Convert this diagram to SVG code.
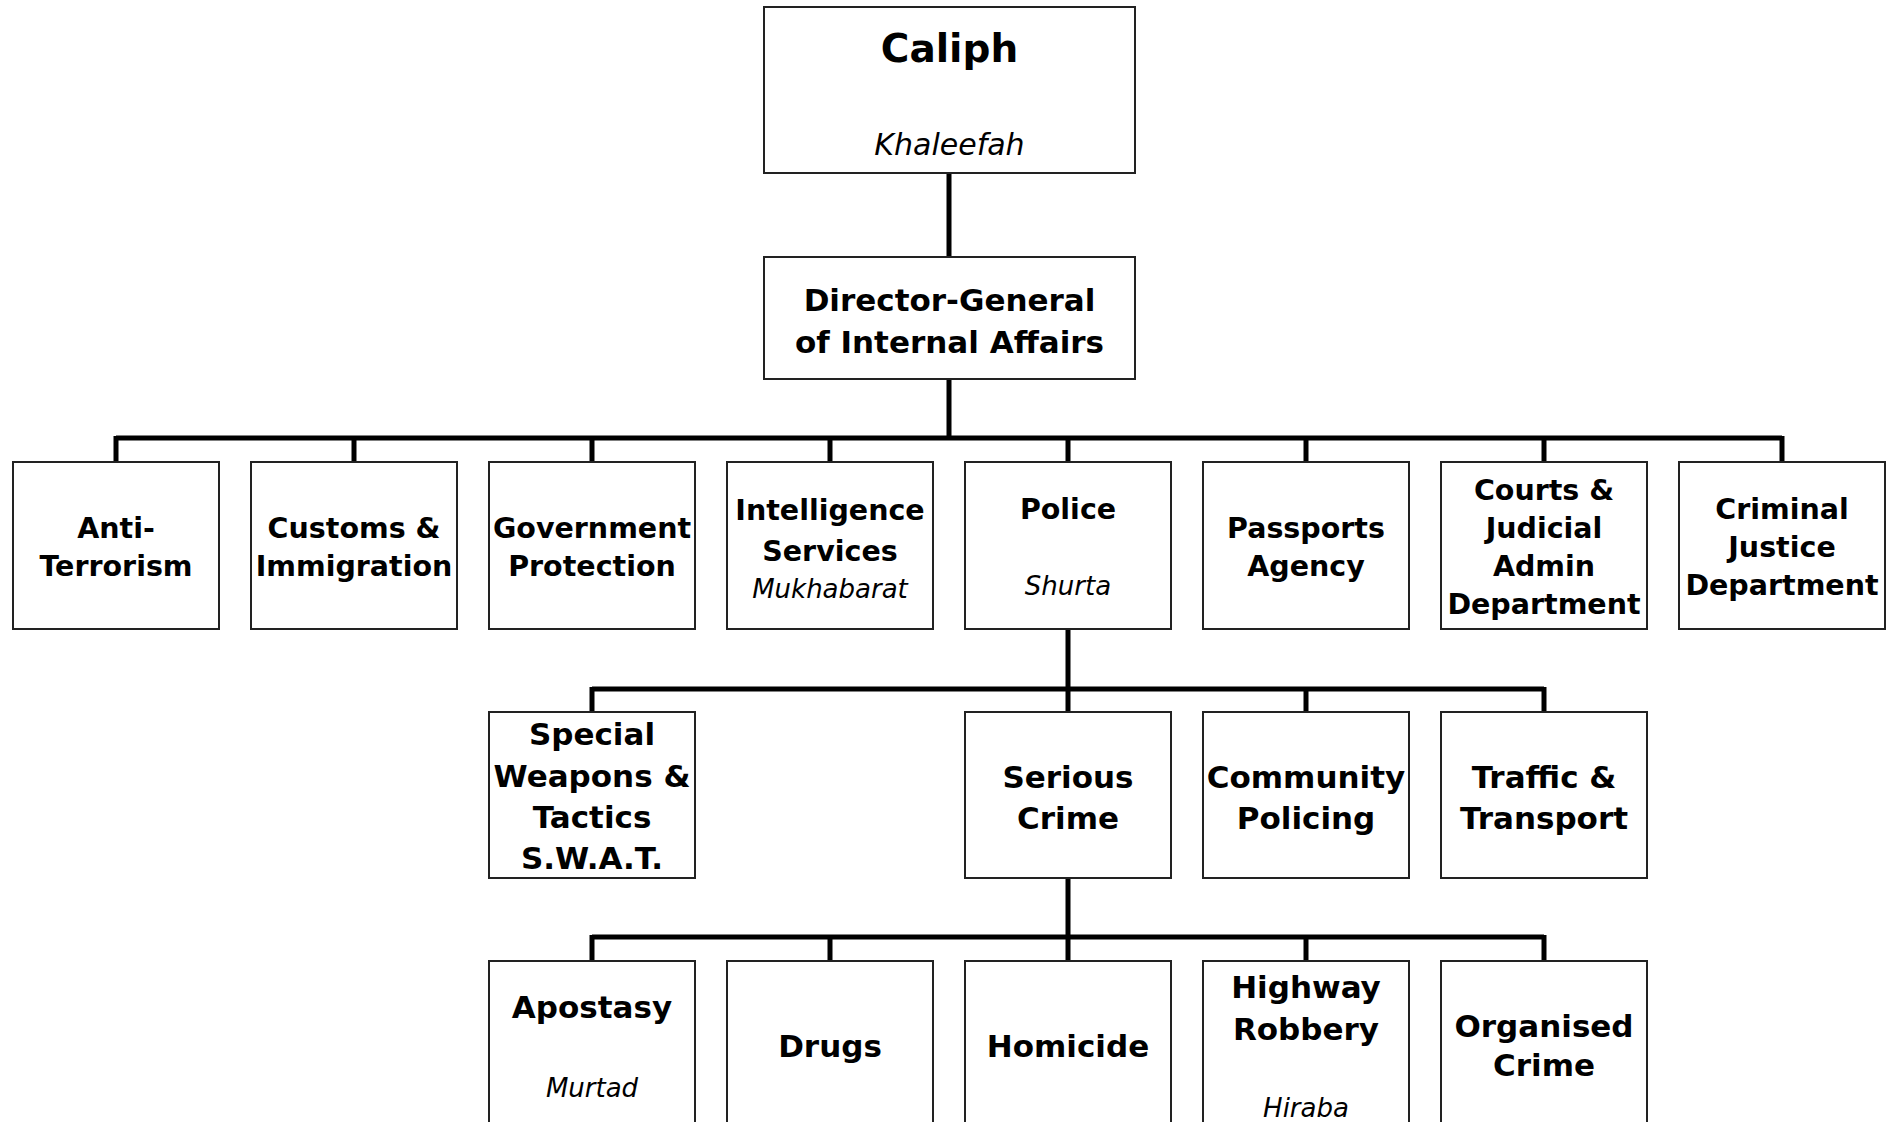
<svg xmlns="http://www.w3.org/2000/svg" width="1894" height="1122" viewBox="0 0 1894 1122">
<style>
.box{fill:#fff;stroke:#222;stroke-width:2}
.t{font-family:"DejaVu Sans",Verdana,sans-serif;font-weight:bold;text-anchor:middle;fill:#000}
.i{font-family:"DejaVu Sans",Verdana,sans-serif;font-style:italic;text-anchor:middle;fill:#000}
.l2{font-size:28.5px}
.l3{font-size:31px}
.it{font-size:26px}
.con{fill:none;stroke:#000;stroke-width:5}
</style>
<rect width="1894" height="1122" fill="#fff"/>
<g id="connectors">
<path class="con" d="M949 173V257M949 379V438M116 438H1782M116 436V462M354 436V462M592 436V462M830 436V462M1068 436V462M1306 436V462M1544 436V462M1782 436V462"/>
<path class="con" d="M1068 629V689M592 689H1544M592 687V712M1068 687V712M1306 687V712M1544 687V712"/>
<path class="con" d="M1068 878V937M592 937H1544M592 935V961M830 935V961M1068 935V961M1306 935V961M1544 935V961"/>
</g>
<g id="caliph"><rect class="box" x="764" y="7" width="371" height="166"/>
<text class="t" x="949.5" y="62" font-size="39">Caliph</text>
<text class="i" x="949.5" y="155" font-size="30">Khaleefah</text></g>
<g id="director-general"><rect class="box" x="764" y="257" width="371" height="122"/>
<text class="t" x="949.5" y="311" font-size="31">Director-General</text>
<text class="t" x="949.5" y="353" font-size="31">of Internal Affairs</text></g>
<g id="anti-terrorism"><rect class="box" x="13" y="462" width="206" height="167"/>
<text class="t l2" x="116" y="538">Anti-</text><text class="t l2" x="116" y="576">Terrorism</text></g>
<g id="customs"><rect class="box" x="251" y="462" width="206" height="167"/>
<text class="t l2" x="354" y="538">Customs &amp;</text><text class="t l2" x="354" y="576">Immigration</text></g>
<g id="government-protection"><rect class="box" x="489" y="462" width="206" height="167"/>
<text class="t l2" x="592" y="538">Government</text><text class="t l2" x="592" y="576">Protection</text></g>
<g id="intelligence"><rect class="box" x="727" y="462" width="206" height="167"/>
<text class="t l2" x="830" y="520">Intelligence</text><text class="t l2" x="830" y="561">Services</text>
<text class="i it" x="830" y="598">Mukhabarat</text></g>
<g id="police"><rect class="box" x="965" y="462" width="206" height="167"/>
<text class="t l2" x="1068" y="519">Police</text>
<text class="i it" x="1068" y="595">Shurta</text></g>
<g id="passports"><rect class="box" x="1203" y="462" width="206" height="167"/>
<text class="t l2" x="1306" y="538">Passports</text><text class="t l2" x="1306" y="576">Agency</text></g>
<g id="courts"><rect class="box" x="1441" y="462" width="206" height="167"/>
<text class="t l2" x="1544" y="500">Courts &amp;</text><text class="t l2" x="1544" y="538">Judicial</text>
<text class="t l2" x="1544" y="576">Admin</text><text class="t l2" x="1544" y="614">Department</text></g>
<g id="criminal-justice"><rect class="box" x="1679" y="462" width="206" height="167"/>
<text class="t l2" x="1782" y="519">Criminal</text><text class="t l2" x="1782" y="557">Justice</text>
<text class="t l2" x="1782" y="595">Department</text></g>
<g id="swat"><rect class="box" x="489" y="712" width="206" height="166"/>
<text class="t l3" x="592" y="745">Special</text><text class="t l3" x="592" y="787">Weapons &amp;</text>
<text class="t l3" x="592" y="828">Tactics</text><text class="t l3" x="592" y="869">S.W.A.T.</text></g>
<g id="serious-crime"><rect class="box" x="965" y="712" width="206" height="166"/>
<text class="t l3" x="1068" y="788">Serious</text><text class="t l3" x="1068" y="829">Crime</text></g>
<g id="community-policing"><rect class="box" x="1203" y="712" width="206" height="166"/>
<text class="t l3" x="1306" y="788">Community</text><text class="t l3" x="1306" y="829">Policing</text></g>
<g id="traffic"><rect class="box" x="1441" y="712" width="206" height="166"/>
<text class="t l3" x="1544" y="788">Traffic &amp;</text><text class="t l3" x="1544" y="829">Transport</text></g>
<g id="apostasy"><rect class="box" x="489" y="961" width="206" height="170"/>
<text class="t l3" x="592" y="1018">Apostasy</text>
<text class="i it" x="592" y="1097">Murtad</text></g>
<g id="drugs"><rect class="box" x="727" y="961" width="206" height="170"/>
<text class="t l3" x="830" y="1057">Drugs</text></g>
<g id="homicide"><rect class="box" x="965" y="961" width="206" height="170"/>
<text class="t l3" x="1068" y="1057">Homicide</text></g>
<g id="highway-robbery"><rect class="box" x="1203" y="961" width="206" height="170"/>
<text class="t l3" x="1306" y="998">Highway</text><text class="t l3" x="1306" y="1040">Robbery</text>
<text class="i it" x="1306" y="1117">Hiraba</text></g>
<g id="organised-crime"><rect class="box" x="1441" y="961" width="206" height="170"/>
<text class="t l3" x="1544" y="1037">Organised</text><text class="t l3" x="1544" y="1076">Crime</text></g>
</svg>
